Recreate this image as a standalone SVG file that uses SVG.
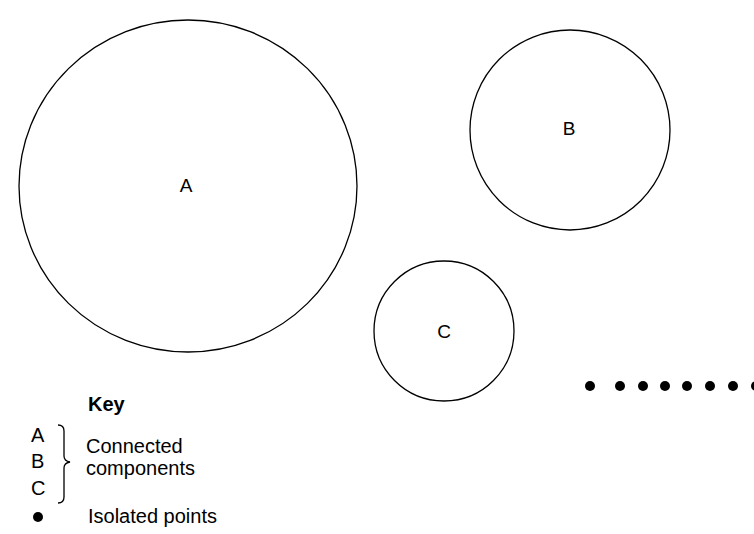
<svg xmlns="http://www.w3.org/2000/svg" width="754" height="534" viewBox="0 0 754 534">
<style>
.c{fill:none;stroke:#000;stroke-width:1.3}
.t{font-family:"Liberation Sans",Arial,sans-serif;font-size:20px;fill:#000}
.l{font-size:19px}
.m{text-anchor:middle}
.d{fill:#000}
</style>
<rect width="754" height="534" fill="#fff"/>
<g id="A"><ellipse class="c" cx="188" cy="186" rx="169" ry="166"/><text class="t l m" x="186" y="192">A</text></g>
<g id="B"><circle class="c" cx="570" cy="130" r="100"/><text class="t l m" x="569" y="135">B</text></g>
<g id="C"><circle class="c" cx="444" cy="331" r="70"/><text class="t l m" x="444" y="338">C</text></g>
<g id="isolated">
<circle class="d" cx="590" cy="386" r="5"/>
<circle class="d" cx="620" cy="386" r="5"/>
<circle class="d" cx="643" cy="386" r="5"/>
<circle class="d" cx="665" cy="386" r="5"/>
<circle class="d" cx="687" cy="386" r="5"/>
<circle class="d" cx="710" cy="386" r="5"/>
<circle class="d" cx="733" cy="386" r="5"/>
<circle class="d" cx="756" cy="386" r="5"/>
</g>
<g id="key">
<text class="t" x="88" y="411" font-weight="bold">Key</text>
<text class="t" x="31" y="442">A</text>
<text class="t" x="31" y="468">B</text>
<text class="t" x="31" y="495">C</text>
<path class="c" d="M58 425 Q64 425 64 431 L64 456 Q64 461 70 462 Q64 463 64 468 L64 497 Q64 503 58 503"/>
<text class="t" x="86" y="453">Connected</text>
<text class="t" x="86" y="475">components</text>
<circle class="d" cx="38" cy="517" r="5"/>
<text class="t" x="88" y="523">Isolated points</text>
</g>
</svg>
